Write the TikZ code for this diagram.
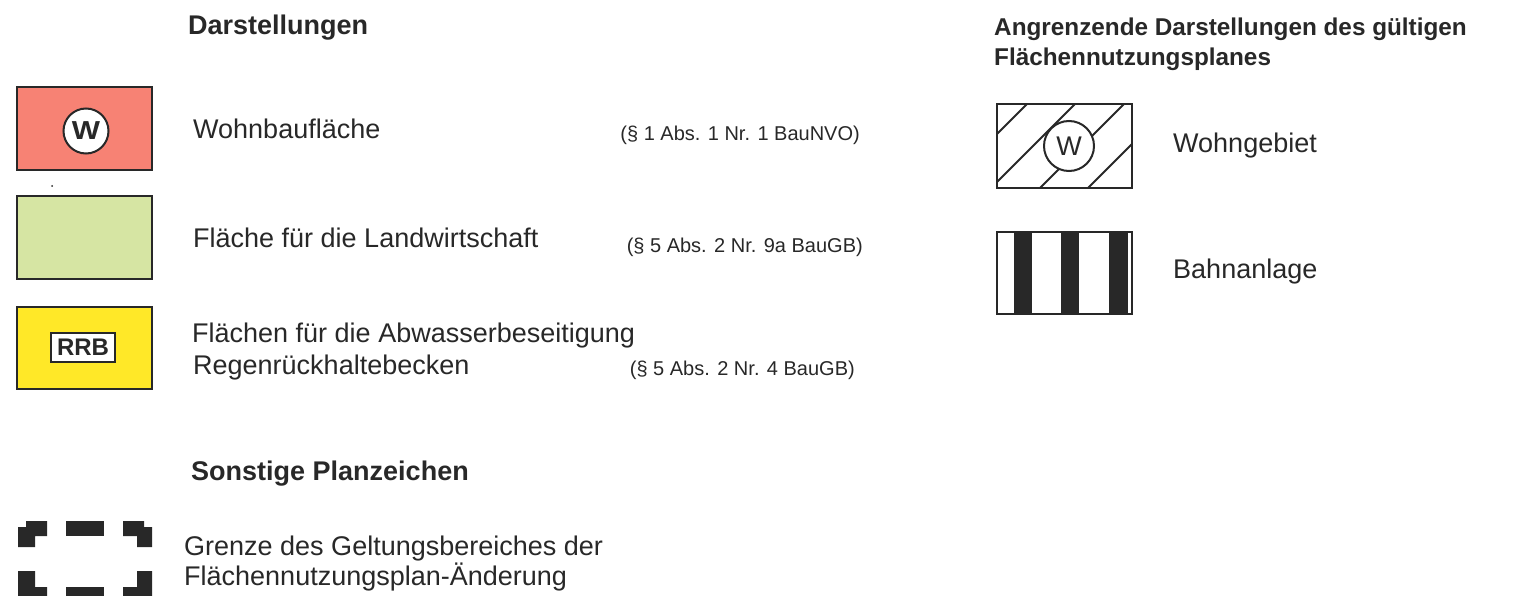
\documentclass[tikz,border=0pt]{standalone}
\usepackage{fontspec}
\setmainfont{Liberation Sans}
\definecolor{wred}{RGB}{247,130,116}
\definecolor{lgreen}{RGB}{214,229,163}
\definecolor{yel}{RGB}{255,232,40}
\definecolor{ink}{RGB}{40,40,40}
\tikzset{
  symbox/.style={draw=ink, line width=2pt},
  txt/.style={anchor=base west, inner sep=0pt, text=ink, font=\fontsize{27}{32}\selectfont},
  head/.style={anchor=base west, inner sep=0pt, text=ink, font=\fontsize{27}{32}\selectfont\bfseries},
  rhead/.style={anchor=base west, inner sep=0pt, text=ink, font=\fontsize{24.3}{30}\selectfont\bfseries},
  ref/.style={anchor=base east, inner sep=0pt, text=ink, font=\fontsize{20}{24}\selectfont},
  blk/.style={fill=ink, draw=none}
}
\begin{document}
\begin{tikzpicture}[x=1pt,y=-1pt]
\useasboundingbox (0,0) rectangle (1514,596);
\fill[white] (0,0) rectangle (1514,596);

% headings
\node[head] (h1) at (188,35) {Darstellungen};
\node[rhead] (h2) at (994,35.5) {Angrenzende Darstellungen des gültigen};
\node[rhead] (h3) at (994,66) {Flächennutzungsplanes};
\node[head] (h4) at (191,480) {Sonstige Planzeichen};

% Wohnbauflaeche
\draw[symbox, fill=wred] (17,87) rectangle (152,170);
\node[circle, draw=ink, line width=2pt, fill=white, minimum size=45pt, inner sep=0pt,
      font=\fontsize{26}{26}\selectfont\bfseries, text=ink] (wc) at (86,131) {\scalebox{1.15}[1]{W}};
\node[txt] (t1) at (193,139) {Wohnbaufläche};
\node[ref] (r1) at (860,141) {(§ 1 Abs. 1 Nr. 1 BauNVO)};
\fill[ink] (52,186) circle (1pt);

% Landwirtschaft
\draw[symbox, fill=lgreen] (17,196) rectangle (152,279);
\node[txt] (t2) at (193,247) {Fläche für die Landwirtschaft};
\node[ref] (r2) at (863,252) {(§ 5 Abs. 2 Nr. 9a BauGB)};

% RRB
\draw[symbox, fill=yel] (17,307) rectangle (152,389);
\node[draw=ink, line width=2pt, fill=white, minimum width=64pt, minimum height=29pt, inner sep=0pt,
      font=\fontsize{24}{24}\selectfont\bfseries, text=ink] (rrb) at (83,347.5) {RRB};
\node[txt] (t3) at (192,342) {Flächen für die Abwasserbeseitigung};
\node[txt] (t4) at (193,374) {Regenrückhaltebecken};
\node[ref] (r3) at (855,375) {(§ 5 Abs. 2 Nr. 4 BauGB)};

% Grenze des Geltungsbereiches
\begin{scope}
\clip (0,0) rectangle (1514,596);
\fill[white] (35,536) rectangle (137,587);
% corners
\fill[blk] (26,521) -- (47,521) -- (47,536) -- (35,536) -- (35,547) -- (18,547) -- (18,527) -- (26,527) -- cycle;
\fill[blk] (144,521) -- (123,521) -- (123,536) -- (137,536) -- (137,547) -- (152,547) -- (152,527) -- (144,527) -- cycle;
\fill[blk] (18,571) -- (35,571) -- (35,587) -- (47,587) -- (47,602) -- (26,602) -- (26,596) -- (18,596) -- cycle;
\fill[blk] (152,571) -- (137,571) -- (137,587) -- (123,587) -- (123,602) -- (144,602) -- (144,596) -- (152,596) -- cycle;
% middle blocks
\fill[blk] (66,521) rectangle (104,536);
\fill[blk] (66,587) rectangle (104,602);
\end{scope}
\node[txt] (t5) at (184,555) {Grenze des Geltungsbereiches der};
\node[txt] (t6) at (184,585) {Flächennutzungsplan-Änderung};

% Wohngebiet (hatched)
\begin{scope}
\clip (997,104) rectangle (1132,188);
\foreach \c in {1131,1179,1228,1276}{
  \draw[ink, line width=2pt] (\c-80,80) -- (\c-210,210);
}
\end{scope}
\draw[symbox] (997,104) rectangle (1132,188);
\node[circle, draw=ink, line width=2pt, fill=white, minimum size=50pt, inner sep=0pt,
      font=\fontsize{27}{27}\selectfont, text=ink] (wc2) at (1069,146) {W};
\node[txt] (t7) at (1173,153) {Wohngebiet};

% Bahnanlage (stripes)
\fill[ink] (1014,232) rectangle (1032,314);
\fill[ink] (1061,232) rectangle (1079,314);
\fill[ink] (1109,232) rectangle (1128,314);
\draw[symbox] (997,232) rectangle (1132,314);
\node[txt] (t8) at (1173,278) {Bahnanlage};
\end{tikzpicture}
\end{document}
